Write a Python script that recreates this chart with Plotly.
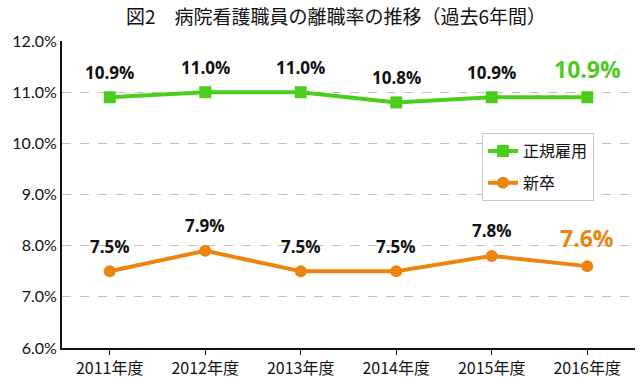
import plotly.graph_objects as go

years = ["2011年度", "2012年度", "2013年度", "2014年度", "2015年度", "2016年度"]
regular = [10.9, 11.0, 11.0, 10.8, 10.9, 10.9]
newgrad = [7.5, 7.9, 7.5, 7.5, 7.8, 7.6]
y_ticks = [6, 7, 8, 9, 10, 11, 12]

GREEN = "#4ccd1e"
ORANGE = "#ec8510"
FONT = "Noto Sans CJK JP"
NUM = "Lato"

fig = go.Figure()
fig.add_trace(go.Scatter(x=years, y=regular, mode="lines+markers", name="正規雇用",
                         legendgroup="a",
                         line=dict(color=GREEN, width=4),
                         marker=dict(symbol="square", size=12, color=GREEN)))
fig.add_trace(go.Scatter(x=years, y=newgrad, mode="lines+markers", name="新卒",
                         legendgroup="b",
                         line=dict(color=ORANGE, width=4),
                         marker=dict(symbol="circle", size=12, color=ORANGE)))

for series, col in ((regular, GREEN), (newgrad, ORANGE)):
    for i, (yr, v) in enumerate(zip(years, series)):
        last = i == len(years) - 1
        fig.add_annotation(x=yr, y=v, text=f"<b>{v:.1f}%</b>", showarrow=False,
                           yshift=28 if last else 25,
                           font=dict(family="Open Sans", size=23 if last else 17,
                                     color=col if last else "#111111"))

fig.update_layout(
    width=640, height=378,
    margin=dict(l=62, r=5, t=41, b=30),
    paper_bgcolor="white", plot_bgcolor="white",
    title=dict(text="図2　病院看護職員の離職率の推移（過去6年間）", x=0.525, xanchor="center",
               y=0.955, yanchor="middle", font=dict(family=FONT, size=19, color="#111111")),
    showlegend=True,
    legend=dict(x=0.733, y=0.70, xanchor="left", yanchor="top",
                bordercolor="#c8c8c8", borderwidth=1, bgcolor="white",
                font=dict(family=FONT, size=16, color="#111111"),
                itemwidth=30, tracegroupgap=8),
    xaxis=dict(type="category", range=[-0.5, 5.5], showline=True, linecolor="#111111",
               linewidth=2, ticks="outside", ticklen=5, tickcolor="#111111",
               showgrid=False, automargin=False,
               tickfont=dict(family=FONT, size=16, color="#111111")),
    yaxis=dict(range=[6, 12], tickvals=y_ticks, ticktext=[f"{t:.1f}%" for t in y_ticks],
               showline=True, linecolor="#111111", linewidth=2, ticks="",
               showgrid=True, gridcolor="#c0c0c0", griddash="dash", gridwidth=1,
               zeroline=False, automargin=False,
               tickfont=dict(family=NUM, size=16, color="#111111")),
)

fig.write_html("out.html", config={"displayModeBar": False},
               post_script="document.body.style.margin='0';")
